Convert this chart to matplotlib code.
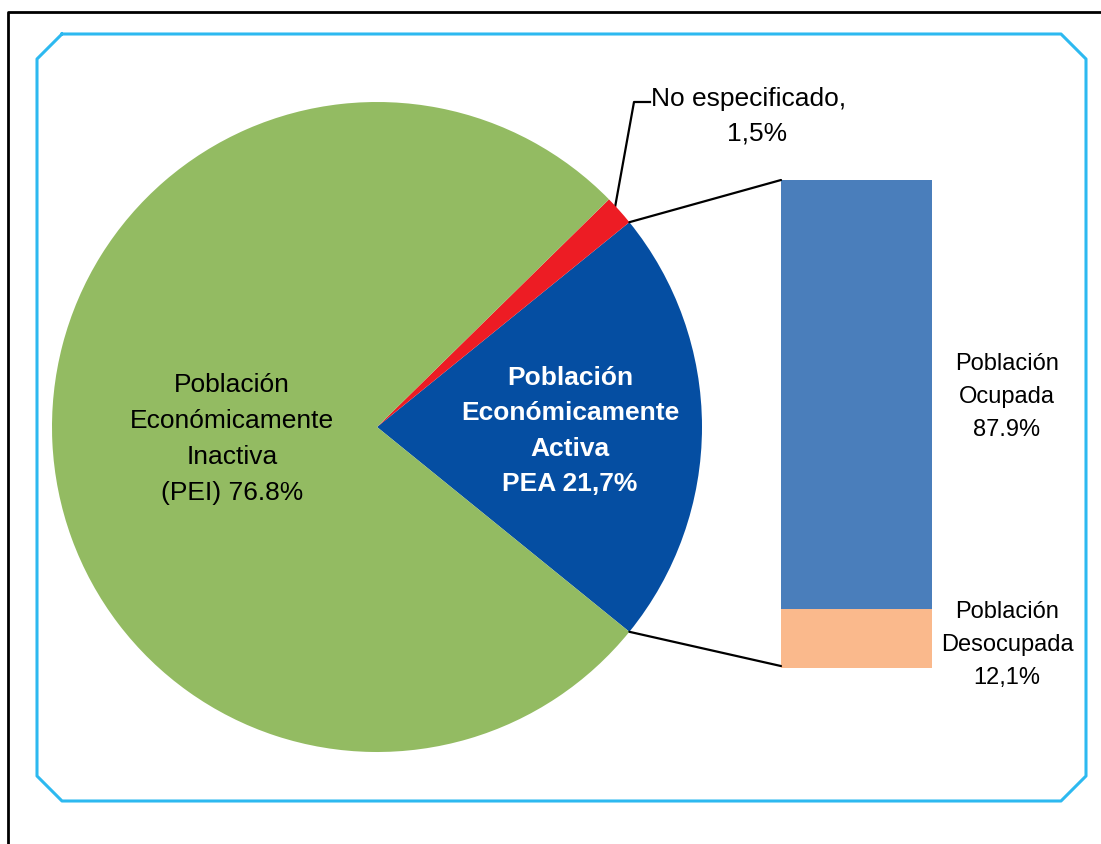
import numpy as np
import matplotlib
matplotlib.use("Agg")
import matplotlib.pyplot as plt
from matplotlib.patches import ConnectionPatch

plt.rcParams['font.family'] = ['Liberation Sans', 'DejaVu Sans']

# ---- data ----
pie_labels = ["Población\nEconómicamente\nActiva\nPEA 21,7%",
              "No especificado,\n1,5%",
              "Población\nEconómicamente\nInactiva\n(PEI) 76.8%"]
pie_values = [21.7, 1.5, 76.8]
bar_labels = ["Población\nDesocupada\n12,1%", "Población\nOcupada\n87.9%"]
bar_values = [12.1, 87.9]

pie_colors = ["#054EA2", "#ED1C24", "#93BB62"]
bar_colors = ["#FAB98C", "#4A7EBB"]

W, H = 1101, 844
fig = plt.figure(figsize=(W / 100, H / 100), dpi=100)

# background axes in pixel coords
ax0 = fig.add_axes([0, 0, 1, 1])
ax0.set_xlim(0, W)
ax0.set_ylim(H, 0)
ax0.axis("off")
# black frame
ax0.plot([7.5, 7.5, 1101], [844, 11.5, 11.5], color="black", lw=2, solid_capstyle="butt")
# chamfered light-blue box
bx = [62, 1061, 1086, 1086, 1061, 62, 37, 37, 62]
by = [34, 34, 59, 776, 801, 801, 776, 59, 34]
ax0.plot(bx, by, color="#2DB9F0", lw=2.2)

def fx(x):
    return x / W

def fy(y):
    return 1 - y / H

# pie axes
cx, cy, r = 377, 427, 325
axp = fig.add_axes([fx(cx - r), fy(cy + r), 2 * r / W, 2 * r / H])
start = -pie_values[0] / 100 * 360 / 2
wedges, _ = axp.pie(pie_values, colors=pie_colors, startangle=start,
                    counterclock=True, radius=1,
                    wedgeprops=dict(linewidth=0))
axp.set_xlim(-1, 1)
axp.set_ylim(-1, 1)
axp.axis("off")

# bar axes
axb = fig.add_axes([fx(781), fy(668), 151 / W, 488 / H])
bottom = 0
for v, c in zip(bar_values, bar_colors):
    axb.bar(0, v, bottom=bottom, width=1, color=c, linewidth=0)
    bottom += v
axb.set_xlim(-0.5, 0.5)
axb.set_ylim(0, sum(bar_values))
axb.axis("off")

# connectors from PEA wedge to bar
a1 = np.deg2rad(wedges[0].theta2)
a2 = np.deg2rad(wedges[0].theta1)
for (px, py), by_ in [((np.cos(a1), np.sin(a1)), sum(bar_values)),
                      ((np.cos(a2), np.sin(a2)), 0.4)]:
    con = ConnectionPatch(xyA=(px, py), coordsA=axp.transData,
                          xyB=(-0.5, by_), coordsB=axb.transData,
                          color="black", lw=1.6)
    fig.add_artist(con)

# pie labels (drawn on the pie axes, positioned in pixel coords)
axp.text(232, 439, pie_labels[2], transform=ax0.transData, ha="center", va="center",
         fontsize=19, color="black", linespacing=1.62)
axp.text(570, 431, pie_labels[0], transform=ax0.transData, ha="center", va="center",
         fontsize=19, color="white", fontweight="bold", linespacing=1.6)

# "No especificado" leader
am = np.deg2rad((wedges[1].theta1 + wedges[1].theta2) / 2)
sx, sy = cx + r * np.cos(am) - 5, cy - r * np.sin(am)
ax0.plot([sx, 634, 650], [sy, 102, 102], color="black", lw=1.6)
first, second = pie_labels[1].split("\n")
ax0.text(651, 99, first, ha="left", va="center", fontsize=19, color="black")
ax0.text(757, 134, second, ha="center", va="center", fontsize=19, color="black")

# bar labels
ax0.text(1007, 645, bar_labels[0], ha="center", va="center",
         fontsize=17, color="black", linespacing=1.67)
ax0.text(1007, 397, bar_labels[1], ha="center", va="center",
         fontsize=17, color="black", linespacing=1.67)

fig.savefig("out.png", dpi=100)
